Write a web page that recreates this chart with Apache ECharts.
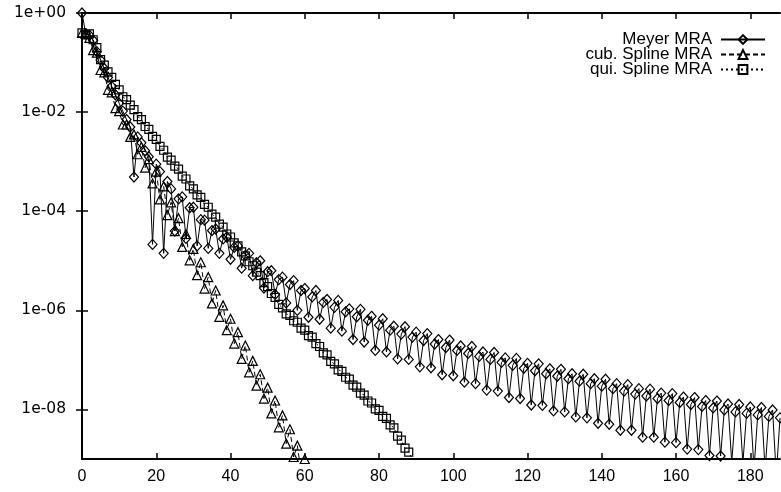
<!DOCTYPE html>
<html>
<head>
<meta charset="utf-8">
<script src="https://cdn.jsdelivr.net/npm/echarts@6/dist/echarts.min.js"></script>
<style>
  html, body { margin: 0; padding: 0; background: #fff; }
  #chart { width: 781px; height: 492px; }
</style>
</head>
<body>
<div id="chart"></div>
<script>
// log10 of the coefficient magnitude, one entry per index k = 0, 1, 2, ...
const meyerLog10 = [
  0.00, -0.42, -0.45, -0.55, -0.78, -0.95, -1.12, -1.30, -1.48, -1.65,
  -1.82, -1.98, -2.15, -2.30, -3.31, -2.50, -2.62, -2.78, -2.90, -4.67,
  -3.05, -3.20, -4.85, -3.40, -3.55, -4.40, -3.75, -3.71, -4.55, -3.93,
  -3.92, -4.70, -4.17, -4.18, -4.75, -4.39, -4.36, -4.85, -4.56, -4.52,
  -4.97, -4.73, -4.70, -5.15, -4.89, -4.85, -5.30, -5.04, -5.00, -5.55,
  -5.22, -5.20, -5.68, -5.38, -5.33, -5.85, -5.48, -5.40, -6.00, -5.60,
  -5.56, -6.14, -5.73, -5.60, -6.18, -5.84, -5.78, -6.36, -5.94, -5.80,
  -6.42, -6.03, -5.97, -6.59, -6.13, -5.98, -6.64, -6.20, -6.12, -6.81,
  -6.30, -6.17, -6.84, -6.40, -6.32, -6.98, -6.48, -6.33, -6.99, -6.54,
  -6.44, -7.14, -6.61, -6.47, -7.16, -6.68, -6.59, -7.30, -6.75, -6.60,
  -7.32, -6.81, -6.72, -7.45, -6.87, -6.73, -7.48, -6.93, -6.84, -7.61,
  -6.99, -6.85, -7.63, -7.05, -6.96, -7.76, -7.11, -6.97, -7.78, -7.17,
  -7.07, -7.91, -7.22, -7.08, -7.92, -7.28, -7.18, -8.03, -7.33, -7.19,
  -8.05, -7.38, -7.28, -8.15, -7.43, -7.29, -8.17, -7.48, -7.38, -8.28,
  -7.53, -7.39, -8.30, -7.58, -7.48, -8.42, -7.63, -7.50, -8.42, -7.69,
  -7.58, -8.56, -7.73, -7.59, -8.56, -7.78, -7.67, -8.66, -7.82, -7.68,
  -8.67, -7.86, -7.75, -8.80, -7.90, -7.76, -8.81, -7.94, -7.82, -8.93,
  -7.97, -7.83, -8.94, -8.01, -7.89, -9.07, -8.05, -7.90, -9.08, -8.08,
  -7.95, -9.20, -8.11, -7.96, -9.21, -8.14, -8.01, -9.33, -8.17
];
const cubicLog10 = [
  -0.40, -0.42, -0.50, -0.75, -0.80, -1.15, -1.20, -1.55, -1.60, -1.92,
  -1.98, -2.25, -2.25, -2.50, -2.45, -2.85, -2.70, -3.12, -2.95, -3.44,
  -3.20, -3.76, -3.50, -4.08, -3.82, -4.40, -4.14, -4.72, -4.46, -4.99,
  -4.76, -5.29, -5.03, -5.56, -5.33, -5.86, -5.60, -6.13, -5.90, -6.40,
  -6.17, -6.67, -6.44, -6.98, -6.71, -7.25, -7.02, -7.52, -7.29, -7.78,
  -7.56, -8.08, -7.82, -8.36, -8.12, -8.69, -8.40, -8.96, -8.73, -9.25,
  -9.00, -9.50
];
const quinticLog10 = [
  -0.40, -0.44, -0.42, -0.54, -0.70, -0.94, -1.05, -1.19, -1.30, -1.44,
  -1.55, -1.69, -1.75, -1.86, -1.95, -2.09, -2.15, -2.29, -2.35, -2.49,
  -2.55, -2.69, -2.77, -2.91, -2.97, -3.09, -3.15, -3.29, -3.35, -3.49,
  -3.55, -3.67, -3.72, -3.86, -3.92, -4.06, -4.12, -4.26, -4.32, -4.46,
  -4.52, -4.64, -4.70, -4.82, -4.90, -5.02, -5.10, -5.23, -5.30, -5.44,
  -5.52, -5.66, -5.74, -5.88, -5.95, -6.07, -6.10, -6.21, -6.24, -6.36,
  -6.40, -6.51, -6.54, -6.67, -6.73, -6.86, -6.90, -7.03, -7.08, -7.20,
  -7.23, -7.35, -7.39, -7.51, -7.55, -7.67, -7.71, -7.83, -7.87, -7.99,
  -8.02, -8.14, -8.18, -8.31, -8.37, -8.54, -8.62, -8.78, -8.86, -9.01,
  -9.10
];
const seriesNames = ['Meyer MRA', 'cub. Spline MRA', 'qui. Spline MRA'];
const xTicks = [0, 20, 40, 60, 80, 100, 120, 140, 160, 180];
const yTicks = [1e-8, 1e-6, 1e-4, 1e-2, 1];

const toPoints = arr => arr.map((e, k) => [k, Math.pow(10, e)]);

function expLabel(v) {
  const e = Math.round(Math.log10(v));
  const a = Math.abs(e);
  return '1e' + (e < 0 ? '-' : '+') + (a < 10 ? '0' : '') + a;
}

const font = 'Liberation Sans, Arial, Helvetica, sans-serif';
const wideFont = 'DejaVu Sans, Verdana, sans-serif';
const frameLine = { lineStyle: { color: '#000', width: 2 } };
const innerTick = { inside: true, length: 6, lineStyle: { color: '#000', width: 1.5 } };

function xAxisDef(pos, labels) {
  return {
    type: 'value', min: 0, max: 188, position: pos,
    axisLine: frameLine,
    axisTick: Object.assign({ customValues: xTicks }, innerTick),
    axisLabel: { show: labels, customValues: xTicks, color: '#000', fontSize: 16, fontFamily: font, margin: 10 },
    splitLine: { show: false }
  };
}
function yAxisDef(pos, labels) {
  return {
    type: 'log', logBase: 10, min: 1e-9, max: 1, position: pos,
    axisLine: frameLine,
    axisTick: Object.assign({ customValues: yTicks }, innerTick),
    axisLabel: { show: labels, customValues: yTicks, formatter: expLabel, color: '#000', fontSize: 15.5, fontFamily: wideFont, margin: 16 },
    splitLine: { show: false }
  };
}

function lineSeries(name, arr, symbol, size, dash) {
  return {
    name: name, type: 'line', data: toPoints(arr),
    symbol: symbol, symbolSize: size, showAllSymbol: true,
    lineStyle: { color: '#000', width: 1, type: dash },
    itemStyle: { color: 'rgba(255,255,255,0)', borderColor: '#000', borderWidth: 1.2 },
    emphasis: { disabled: true }, silent: true, clip: true
  };
}

const chart = echarts.init(document.getElementById('chart'), null, { renderer: 'canvas' });
chart.setOption({
  animation: false,
  backgroundColor: '#fff',
  grid: { left: 82, right: 1, top: 13, bottom: 33 },
  legend: {
    data: seriesNames, orient: 'vertical', align: 'right',
    right: 10, top: 26, itemWidth: 44, itemHeight: 11, itemGap: -2,
    textStyle: { color: '#000', fontSize: 17, lineHeight: 15, fontFamily: font, padding: [0, 4, 0, 0] },
    selectedMode: false
  },
  xAxis: [xAxisDef('bottom', true), xAxisDef('top', false)],
  yAxis: [yAxisDef('left', true), yAxisDef('right', false)],
  series: [
    lineSeries(seriesNames[0], meyerLog10, 'diamond', [9, 10], 'solid'),
    lineSeries(seriesNames[1], cubicLog10, 'triangle', [9, 9], [5, 3]),
    lineSeries(seriesNames[2], quinticLog10, 'rect', [8, 8], [2, 3])
  ]
});
</script>
</body>
</html>
